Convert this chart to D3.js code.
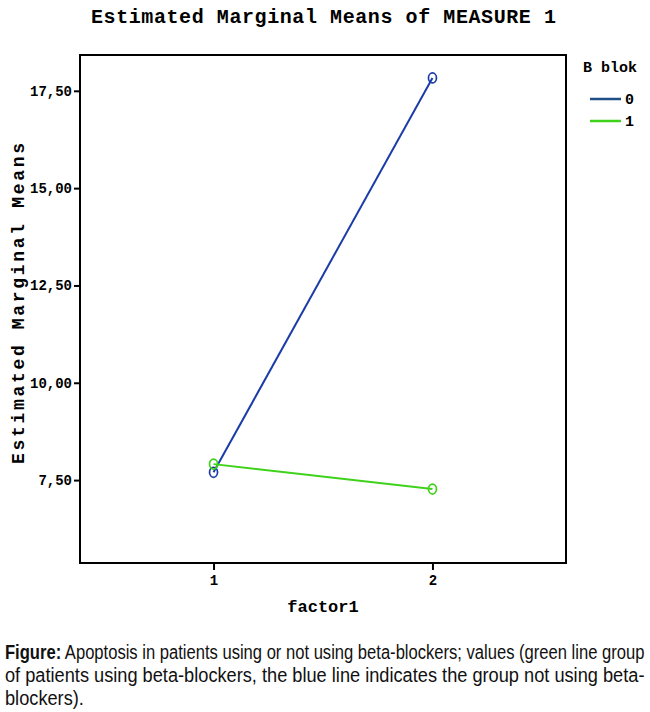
<!DOCTYPE html>
<html>
<head>
<meta charset="utf-8">
<script src="https://cdn.jsdelivr.net/npm/d3@7/dist/d3.min.js"></script>
<style>
  html, body { margin: 0; padding: 0; background: #fff; }
  svg { display: block; }
</style>
</head>
<body>
<svg id="chart" width="650" height="712"></svg>
<script>
// ---- data ----
const factorLevels = [1, 2];
const groupNames = ["0", "1"];
const group0Values = [7.70, 17.83];   // B blok = 0 (blue)
const group1Values = [7.91, 7.27];    // B blok = 1 (green)
const yTickValues = [7.5, 10, 12.5, 15, 17.5];
const groupColors = ["#1b3ca8", "#3fd21a"];
const legendColors = ["#1f4f86", "#3fd21a"];

const titleText = "Estimated Marginal Means of MEASURE 1";
const yLabelText = "Estimated Marginal Means";
const xLabelText = "factor1";
const legendTitle = "B blok";
const captionBold = "Figure:";
const captionLines = [
  " Apoptosis in patients using or not using beta-blockers; values (green line group",
  "of patients using beta-blockers, the blue line indicates the group not using beta-",
  "blockers)."
];

const series = [
  { name: groupNames[0], values: group0Values, color: groupColors[0] },
  { name: groupNames[1], values: group1Values, color: groupColors[1] }
];

// ---- layout ----
const svg = d3.select("#chart");
const frame = { left: 80, right: 566, top: 55, bottom: 563 };
const mono = "'Liberation Mono', 'Courier New', monospace";

const x = d3.scaleLinear().domain([0.39, 2.61]).range([frame.left, frame.right]);
const y = d3.scaleLinear().domain([5.37, 18.42]).range([frame.bottom, frame.top]);

// title
svg.append("text")
  .attr("x", 91).attr("y", 23)
  .attr("textLength", 465).attr("lengthAdjust", "spacing")
  .style("font-family", mono).style("font-weight", "bold").style("font-size", "20px")
  .text(titleText);

// axes
const fmt = d => d3.format(".2f")(d).replace(".", ",");
const yAxis = svg.append("g")
  .attr("transform", `translate(${frame.left},0)`)
  .call(d3.axisLeft(y).tickValues(yTickValues).tickFormat(fmt).tickSize(6).tickPadding(2));
const xAxis = svg.append("g")
  .attr("transform", `translate(0,${frame.bottom})`)
  .call(d3.axisBottom(x).tickValues(factorLevels).tickFormat(d3.format("d")).tickSize(7).tickPadding(5));
[yAxis, xAxis].forEach(g => {
  g.select(".domain").remove();
  g.selectAll(".tick line").attr("stroke", "#000").attr("stroke-width", 2);
  g.selectAll(".tick text")
    .style("font-family", mono).style("font-weight", "bold").style("font-size", "14px")
    .attr("fill", "#000");
});

// frame
svg.append("rect")
  .attr("x", frame.left).attr("y", frame.top)
  .attr("width", frame.right - frame.left).attr("height", frame.bottom - frame.top)
  .attr("fill", "none").attr("stroke", "#000").attr("stroke-width", 2);

// y label
svg.append("text")
  .attr("transform", "translate(24,464) rotate(-90)")
  .attr("x", 0).attr("y", 0)
  .attr("textLength", 321).attr("lengthAdjust", "spacing")
  .style("font-family", mono).style("font-weight", "900").style("font-size", "18px")
  .text(yLabelText);

// x label
svg.append("text")
  .attr("x", 323).attr("y", 612).attr("text-anchor", "middle")
  .style("font-family", mono).style("font-weight", "bold").style("font-size", "17px")
  .text(xLabelText);

// lines and markers
const line = d3.line().x((d, i) => x(factorLevels[i])).y(d => y(d));
series.forEach(s => {
  svg.append("path")
    .attr("d", line(s.values))
    .attr("fill", "none").attr("stroke", s.color).attr("stroke-width", 2);
  svg.selectAll(null).data(s.values).enter().append("ellipse")
    .attr("cx", (d, i) => x(factorLevels[i])).attr("cy", d => y(d))
    .attr("rx", 4).attr("ry", 5)
    .attr("fill", "none").attr("stroke", s.color).attr("stroke-width", 1.7);
});

// legend
svg.append("text")
  .attr("x", 583).attr("y", 72)
  .style("font-family", mono).style("font-weight", "bold").style("font-size", "15px")
  .text(legendTitle);
series.forEach((s, i) => {
  const ly = 99 + i * 22;
  svg.append("line")
    .attr("x1", 590).attr("x2", 621).attr("y1", ly).attr("y2", ly)
    .attr("stroke", legendColors[i]).attr("stroke-width", 2.5);
  svg.append("text")
    .attr("x", 625).attr("y", ly + 5)
    .style("font-family", mono).style("font-weight", "bold").style("font-size", "15px")
    .text(s.name);
});

// caption
const capFont = "'Liberation Sans Narrow', 'Liberation Sans', Arial, sans-serif";
const capBase = [659, 682, 705];
const capTarget = 640;
let refScale = 1;
captionLines.forEach((txt, i) => {
  const t = svg.append("text")
    .attr("transform", `translate(5,${capBase[i]})`)
    .style("font-family", capFont).style("font-size", "21px").attr("fill", "#111");
  if (i === 0) {
    t.append("tspan").style("font-weight", "bold").text(captionBold);
  }
  t.append("tspan").text(txt);
  const w = t.node().getComputedTextLength();
  let sx;
  if (i < 2) { sx = capTarget / w; if (i === 1) refScale = sx; }
  else sx = refScale;
  t.attr("transform", `translate(5,${capBase[i]}) scale(${sx},1)`);
});
</script>
</body>
</html>
